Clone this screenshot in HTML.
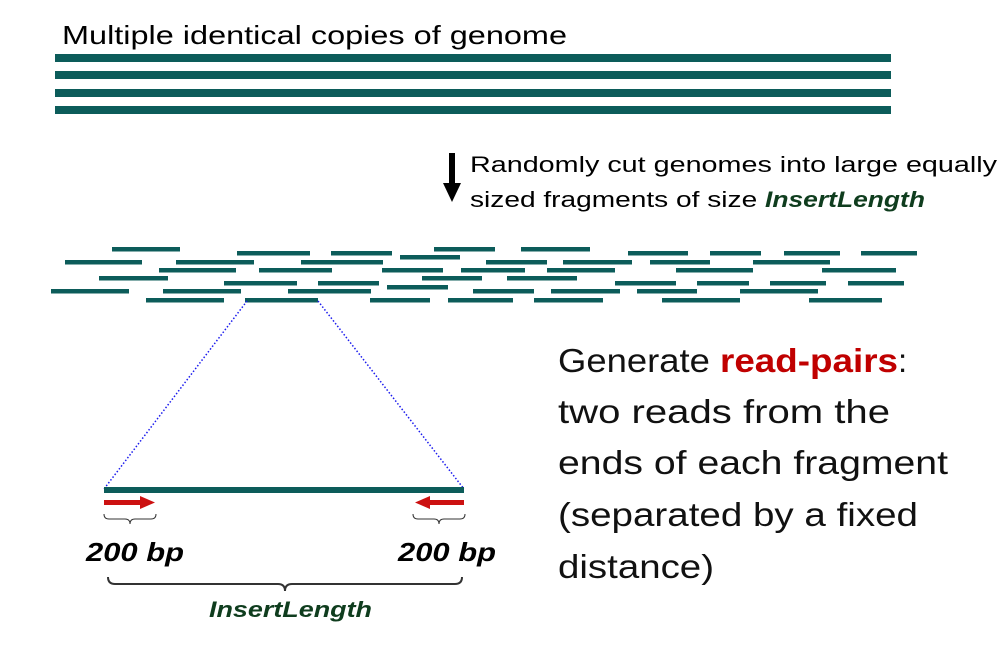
<!DOCTYPE html>
<html><head><meta charset="utf-8"><style>
body{margin:0;background:#fff}svg{display:block}
text{font-family:"Liberation Sans",sans-serif}
</style></head><body>
<svg width="1000" height="649" viewBox="0 0 1000 649">
<text x="62" y="44" font-size="26" fill="#000" textLength="505" lengthAdjust="spacingAndGlyphs">Multiple  identical copies of genome</text>
<g fill="#0c5c5a">
<rect x="55" y="54" width="836" height="8"/>
<rect x="55" y="71" width="836" height="8"/>
<rect x="55" y="89" width="836" height="8"/>
<rect x="55" y="106" width="836" height="8"/>
</g>
<g>
<rect x="449" y="153" width="6" height="32" fill="#000"/>
<polygon points="443,183 461,183 452,202" fill="#000"/>
</g>
<text x="470" y="172" font-size="22" textLength="527" lengthAdjust="spacingAndGlyphs">Randomly cut genomes into large equally</text>
<text x="470" y="207" font-size="22"><tspan textLength="295" lengthAdjust="spacingAndGlyphs">sized fragments of size </tspan><tspan font-weight="bold" font-style="italic" fill="#0f3d1e" textLength="160" lengthAdjust="spacingAndGlyphs">InsertLength</tspan></text>
<g id="frags" fill="#0c5c5a"></g>
<line x1="247" y1="301" x2="104" y2="489" stroke="#1a1aee" stroke-width="1.5" stroke-dasharray="1.5,2"/>
<line x1="318" y1="301" x2="464" y2="489" stroke="#1a1aee" stroke-width="1.5" stroke-dasharray="1.5,2"/>
<rect x="104" y="487" width="360" height="6" fill="#0c5c5a"/>
<g fill="#cc1111">
<rect x="104" y="500" width="38" height="5"/><polygon points="140,496 155,502.5 140,509"/>
</g>
<g fill="#cc1111">
<rect x="428" y="500" width="36" height="5"/><polygon points="430,496 415,502.5 430,509"/>
</g>
<g fill="none" stroke="#333" stroke-width="1">
<path d="M104,514 q0,5 5,5 h16 q5,0 5,5 q0,-5 5,-5 h16 q5,0 5,-5"/>
<path d="M413,514 q0,5 5,5 h16 q5,0 5,5 q0,-5 5,-5 h16 q5,0 5,-5"/>
</g>
<text x="86" y="561" font-size="26" font-weight="bold" font-style="italic" textLength="98" lengthAdjust="spacingAndGlyphs">200 bp</text>
<text x="398" y="561" font-size="26" font-weight="bold" font-style="italic" textLength="98" lengthAdjust="spacingAndGlyphs">200 bp</text>
<path d="M108,577 q0,7 7,7 h163 q7,0 7,7 q0,-7 7,-7 h163 q7,0 7,-7" fill="none" stroke="#333" stroke-width="2"/>
<text x="209" y="617" font-size="22" font-weight="bold" font-style="italic" fill="#0f3d1e" textLength="163" lengthAdjust="spacingAndGlyphs">InsertLength</text>
<g font-size="33" fill="#111">
<text x="558" y="372"><tspan textLength="162" lengthAdjust="spacingAndGlyphs">Generate </tspan><tspan fill="#c00000" font-weight="bold" textLength="178" lengthAdjust="spacingAndGlyphs">read-pairs</tspan><tspan>:</tspan></text>
<text x="558" y="423" textLength="332" lengthAdjust="spacingAndGlyphs">two reads from the</text>
<text x="558" y="474" textLength="390" lengthAdjust="spacingAndGlyphs">ends of each fragment</text>
<text x="558" y="526" textLength="360" lengthAdjust="spacingAndGlyphs">(separated by a fixed</text>
<text x="558" y="578" textLength="156" lengthAdjust="spacingAndGlyphs">distance)</text>
</g>
</svg>
<script>
const fragStart=[112,434,521,237,331,628,710,784,861,400,65,176,301,486,563,650,753,159,259,382,461,547,676,822,99,422,507,224,318,615,697,770,848,387,51,163,288,473,551,637,740,146,245,370,448,534,662,809];
const fragEnd=[180,495,590,310,392,688,761,840,917,460,142,254,383,547,632,710,830,236,332,443,525,615,753,896,168,482,577,297,379,676,749,826,904,448,129,241,371,534,620,697,818,224,318,430,513,603,740,882];
const fragRow=[249,249,249,253,253,253,253,253,253,257,262,262,262,262,262,262,262,270,270,270,270,270,270,270,278,278,278,283,283,283,283,283,283,287,291,291,291,291,291,291,291,300,300,300,300,300,300,300];
const g=document.getElementById('frags');
for(let i=0;i<fragStart.length;i++){
const r=document.createElementNS('http://www.w3.org/2000/svg','rect');
r.setAttribute('x',fragStart[i]);r.setAttribute('y',fragRow[i]-2);
r.setAttribute('width',fragEnd[i]-fragStart[i]);r.setAttribute('height',4.5);


g.appendChild(r);}
</script>
</body></html>
